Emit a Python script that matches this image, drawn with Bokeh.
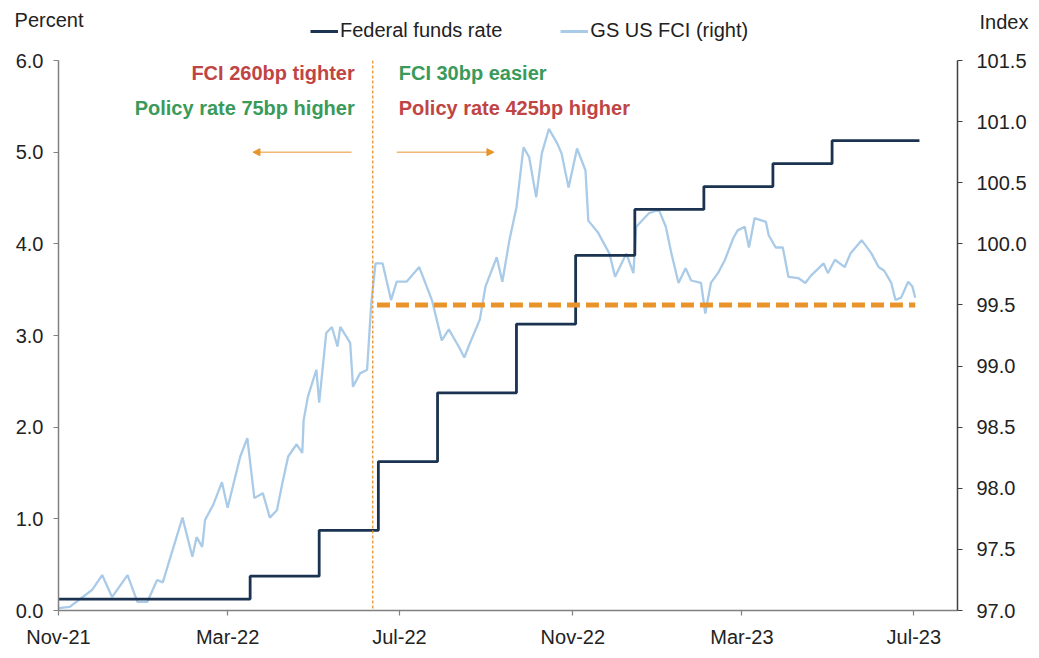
from datetime import datetime
from bokeh.plotting import figure
from bokeh.layouts import column
from bokeh.models import (LinearAxis, Range1d, FixedTicker, DatetimeTickFormatter,
                          NumeralTickFormatter, Span, Arrow, NormalHead, Label,
                          Legend, LegendItem)
from bokeh.embed import file_html
from bokeh.resources import INLINE

# ---------------- data ----------------
ffr_dates = ["2021-11-01", "2022-03-17", "2022-05-05", "2022-06-16", "2022-07-28",
             "2022-09-22", "2022-11-03", "2022-12-15", "2023-02-02", "2023-03-23",
             "2023-05-04", "2023-07-05"]
ffr_values = [0.125, 0.375, 0.875, 1.625, 2.375, 3.125, 3.875, 4.375, 4.625, 4.875,
              5.125, 5.125]

fci_dates = [
    "2021-11-01", "2021-11-09", "2021-11-25", "2021-12-02", "2021-12-09", "2021-12-20",
    "2021-12-27", "2022-01-03", "2022-01-10", "2022-01-14", "2022-01-19", "2022-01-28",
    "2022-02-04", "2022-02-07", "2022-02-11", "2022-02-13", "2022-02-19", "2022-02-25",
    "2022-03-01", "2022-03-10", "2022-03-15", "2022-03-20", "2022-03-26", "2022-03-31",
    "2022-04-05", "2022-04-09", "2022-04-13", "2022-04-19", "2022-04-23", "2022-04-24",
    "2022-04-27", "2022-05-03", "2022-05-05", "2022-05-10", "2022-05-14", "2022-05-18",
    "2022-05-20", "2022-05-27", "2022-05-29", "2022-06-03", "2022-06-08", "2022-06-11",
    "2022-06-14", "2022-06-19", "2022-06-25", "2022-06-29", "2022-07-06", "2022-07-15",
    "2022-07-19", "2022-07-24", "2022-07-31", "2022-08-05", "2022-08-12", "2022-08-16",
    "2022-08-19", "2022-08-27", "2022-08-31", "2022-09-08", "2022-09-12", "2022-09-17",
    "2022-09-22", "2022-09-27", "2022-10-01", "2022-10-06", "2022-10-10", "2022-10-15",
    "2022-10-21", "2022-10-24", "2022-10-29", "2022-11-04", "2022-11-10", "2022-11-12",
    "2022-11-19", "2022-11-27", "2022-12-01", "2022-12-09", "2022-12-14", "2022-12-16",
    "2022-12-25", "2023-01-01", "2023-01-06", "2023-01-10", "2023-01-15", "2023-01-20",
    "2023-01-24", "2023-01-31", "2023-02-03", "2023-02-07", "2023-02-12", "2023-02-17",
    "2023-02-23", "2023-02-26", "2023-03-03", "2023-03-06", "2023-03-10", "2023-03-18",
    "2023-03-20", "2023-03-25", "2023-03-30", "2023-04-03", "2023-04-10", "2023-04-15",
    "2023-04-19", "2023-04-28", "2023-05-01", "2023-05-06", "2023-05-13", "2023-05-17",
    "2023-05-25", "2023-06-01", "2023-06-06", "2023-06-10", "2023-06-15", "2023-06-18",
    "2023-06-22", "2023-06-27", "2023-06-30", "2023-07-02"]
fci_values = [
    97.02, 97.03, 97.17, 97.29, 97.11, 97.29,
    97.07, 97.07, 97.25, 97.23, 97.42, 97.76,
    97.44, 97.60, 97.52, 97.74, 97.87, 98.05,
    97.84, 98.26, 98.41, 97.92, 97.96, 97.76,
    97.82, 98.05, 98.26, 98.36, 98.29, 98.56,
    98.75, 98.97, 98.70, 99.27, 99.32, 99.16,
    99.32, 99.19, 98.83, 98.94, 98.97, 99.52,
    99.84, 99.84, 99.54, 99.69, 99.69, 99.81,
    99.69, 99.54, 99.21, 99.30, 99.16, 99.07,
    99.16, 99.38, 99.65, 99.89, 99.69, 100.03,
    100.30, 100.79, 100.71, 100.38, 100.74, 100.94,
    100.82, 100.74, 100.46, 100.78, 100.60, 100.19,
    100.09, 99.92, 99.73, 99.92, 99.76, 100.14,
    100.25, 100.28, 100.14, 99.92, 99.68, 99.80,
    99.70, 99.68, 99.43, 99.68, 99.76, 99.87,
    100.05, 100.11, 100.14, 99.97, 100.21, 100.18,
    100.07, 99.97, 99.97, 99.73, 99.72, 99.68,
    99.74, 99.84, 99.76, 99.87, 99.81, 99.92,
    100.03, 99.92, 99.81, 99.78, 99.68, 99.54,
    99.56, 99.69, 99.65, 99.56]

avg_line_dates = ["2022-06-15", "2023-07-02"]
avg_line_values = [99.5, 99.5]

event_date = "2022-06-12"
left_arrow_dates = ["2022-05-28", "2022-03-19"]
right_arrow_dates = ["2022-06-29", "2022-09-06"]
arrow_level = 5.0

x_tick_dates = ["2021-11-01", "2022-03-01", "2022-07-01", "2022-11-01", "2023-03-01", "2023-07-01"]
left_ticks = [0, 1, 2, 3, 4, 5, 6]
right_ticks = [97.0, 97.5, 98.0, 98.5, 99.0, 99.5, 100.0, 100.5, 101.0, 101.5]

series_names = ["Federal funds rate", "GS US FCI (right)"]
left_title = "Percent"
right_title = "Index"

# ---------------- helpers ----------------
def ms(s):
    return (datetime.strptime(s, "%Y-%m-%d") - datetime(1970, 1, 1)).total_seconds() * 1000.0

def dts(lst):
    return [datetime.strptime(s, "%Y-%m-%d") for s in lst]

FONT = "Liberation Sans"
NAVY = "#1b3350"
LIGHT = "#a9cbe8"
ORANGE = "#e8942b"
RED = "#bf4545"
GREEN = "#3a9a5a"
TXT = "#222222"
W = 1031
BL, BR = 58, 70   # left / right borders (frame spans 58..961)

# ---------------- header (axis titles + legend) ----------------
hdr = figure(width=W, height=48, x_range=Range1d(BL, W - BR), y_range=Range1d(48, 0),
             output_backend="svg", toolbar_location=None,
             min_border_left=BL, min_border_right=BR, min_border_top=0, min_border_bottom=0)
hdr.xaxis.visible = False
hdr.grid.visible = False
hdr.outline_line_color = None

# axis titles drawn as single tick labels of header axes
hl = hdr.yaxis[0]
hl.ticker = FixedTicker(ticks=[19])
hl.major_label_overrides = {19: left_title}
hl.major_label_standoff = -25
hr = LinearAxis(ticker=FixedTicker(ticks=[21]), major_label_overrides={21: right_title})
hr.major_label_standoff = 22
hdr.add_layout(hr, "right")
for ax in (hl, hr):
    ax.axis_line_color = None
    ax.major_tick_line_color = None
    ax.minor_tick_line_color = None
    ax.major_tick_out = 0
    ax.major_tick_in = 0
    ax.minor_tick_out = 0
    ax.minor_tick_in = 0
    ax.major_label_text_font = FONT
    ax.major_label_text_font_size = "20px"
    ax.major_label_text_color = TXT

# dummy renderers (outside the visible range) that only feed the legend glyphs
d1 = hdr.line([-900, -800], [-900, -900], line_color=NAVY, line_width=3)
d2 = hdr.line([-900, -800], [-900, -900], line_color=LIGHT, line_width=3)
legend = Legend(items=[LegendItem(label=series_names[0], renderers=[d1]),
                       LegendItem(label=series_names[1], renderers=[d2])],
                location=(252, 6), orientation="horizontal")
legend.padding = 0
legend.margin = 0
legend.border_line_color = None
legend.background_fill_alpha = 0
legend.glyph_width = 28
legend.glyph_height = 20
legend.label_standoff = 2
legend.spacing = 58
legend.label_text_font = FONT
legend.label_text_font_size = "20px"
legend.label_text_color = TXT
hdr.add_layout(legend)

# ---------------- main chart ----------------
p = figure(width=W, height=602, x_axis_type="datetime",
           x_range=Range1d(ms("2021-11-01"), ms("2023-08-01")),
           y_range=Range1d(0, 6),
           output_backend="svg", toolbar_location=None,
           min_border_left=BL, min_border_right=BR, min_border_top=12, min_border_bottom=39)
p.extra_y_ranges = {"fci": Range1d(97, 101.5)}
p.outline_line_color = None
p.xgrid.visible = False
p.ygrid.visible = False

xa = p.xaxis[0]
xa.ticker = FixedTicker(ticks=[ms(d) for d in x_tick_dates])
xa.formatter = DatetimeTickFormatter(days="%b-%y", months="%b-%y", years="%b-%y")
ya = p.yaxis[0]
ya.ticker = FixedTicker(ticks=left_ticks)
ya.formatter = NumeralTickFormatter(format="0.0")
ra = LinearAxis(y_range_name="fci", ticker=FixedTicker(ticks=right_ticks),
                formatter=NumeralTickFormatter(format="0.0"))
p.add_layout(ra, "right")

for ax, col in ((xa, "#808080"), (ya, "#808080"), (ra, "#404040")):
    ax.axis_line_color = col
    ax.axis_line_width = 1.5
    ax.major_tick_line_color = col
    ax.major_tick_line_width = 1.2
    ax.major_tick_out = 5
    ax.major_tick_in = 0
    ax.minor_tick_out = 0
    ax.minor_tick_in = 0
    ax.major_label_text_font = FONT
    ax.major_label_text_font_size = "20px"
    ax.major_label_text_color = TXT
ya.major_label_standoff = 10
ra.major_label_standoff = 14
xa.major_label_standoff = 10

p.line(dts(fci_dates), fci_values, y_range_name="fci", line_color=LIGHT, line_width=2.3)
p.step(dts(ffr_dates), ffr_values, mode="after", line_color=NAVY, line_width=2.8)
p.line(dts(avg_line_dates), avg_line_values, y_range_name="fci",
       line_color=ORANGE, line_width=5, line_dash="13 6")

p.add_layout(Span(location=ms(event_date), dimension="height",
                  line_color=ORANGE, line_width=1.5, line_dash="3 2", line_alpha=0.9))

for a, b in (left_arrow_dates, right_arrow_dates):
    p.add_layout(Arrow(x_start=ms(a), y_start=arrow_level, x_end=ms(b), y_end=arrow_level,
                       line_color=ORANGE, line_width=1,
                       end=NormalHead(size=7, fill_color=ORANGE, line_color=ORANGE)))

ann = [("FCI 260bp tighter", 5.86, RED, "right", -18),
       ("Policy rate 75bp higher", 5.48, GREEN, "right", -18),
       ("FCI 30bp easier", 5.86, GREEN, "left", 26),
       ("Policy rate 425bp higher", 5.48, RED, "left", 26)]
for txt, yy, col, align, off in ann:
    p.add_layout(Label(x=ms(event_date), y=yy, text=txt, x_offset=off,
                       text_align=align, text_baseline="middle",
                       text_font=FONT, text_font_size="20px", text_font_style="bold",
                       text_color=col))

layout = column(hdr, p, spacing=0)
open("out.html", "w").write(file_html(layout, INLINE))
